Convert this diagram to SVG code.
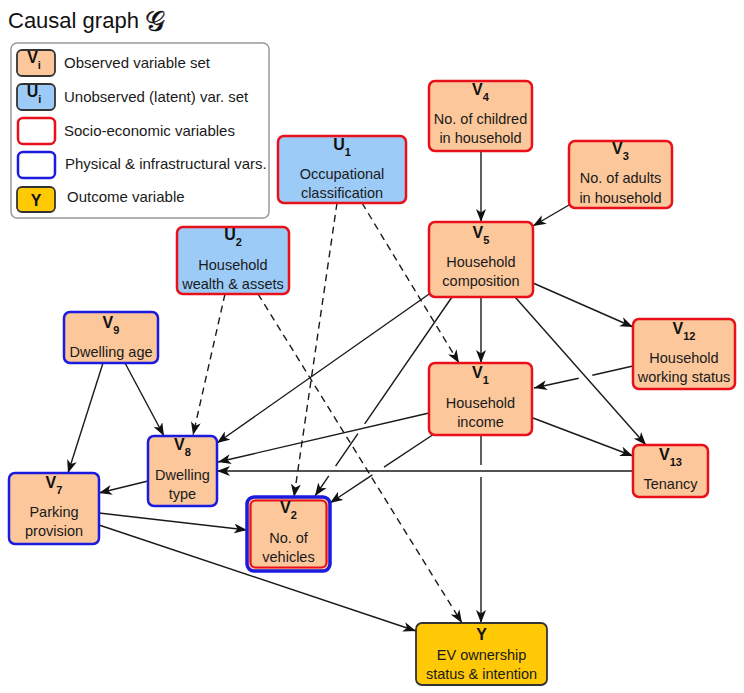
<svg xmlns="http://www.w3.org/2000/svg" width="744" height="693" viewBox="0 0 744 693">
<style>
.box{stroke-width:2.5}
.obs{fill:#fbc79b}
.lat{fill:#9ccbf7}
.out{fill:#ffc906;stroke:#333;stroke-width:1.8}
.se{stroke:#e8101a}
.ph{stroke:#1b1be0}
.sw{stroke:#333;stroke-width:1.8}
.lbl{font-family:"Liberation Sans",Arial,sans-serif;font-weight:bold;font-size:16px;fill:#111;text-anchor:middle}
.sub{font-size:11px}
.txt{font-family:"Liberation Sans",Arial,sans-serif;font-size:14.5px;fill:#1a1a1a;text-anchor:middle}
.leg{font-family:"Liberation Sans",Arial,sans-serif;font-size:15px;fill:#1a1a1a}
.e{fill:none;stroke:#1a1a1a;stroke-width:1.4}
.d{stroke-dasharray:7 5}
</style>
<defs>
<marker id="ah" viewBox="0 0 13 10" refX="13" refY="5" markerWidth="13" markerHeight="10" markerUnits="userSpaceOnUse" orient="auto">
<path d="M0,0 L13,5 L0,10 L3.5,5 Z" fill="#111"/>
</marker>
</defs>

<text x="8" y="28" font-family="Liberation Sans,Arial,sans-serif" font-size="22" fill="#111">Causal graph <tspan font-family="DejaVu Serif,Noto Sans,serif" font-size="28" dy="3" stroke="#111" stroke-width="0.4">𝒢</tspan></text>

<g id="legend">
<rect x="11" y="43" width="258" height="175" rx="6" fill="#fff" stroke="#9a9a9a" stroke-width="1.5"/>
<rect class="obs sw" x="17" y="50" width="38" height="26" rx="5"/>
<text class="lbl" x="34" y="63">V<tspan class="sub" dy="6">i</tspan></text>
<text class="leg" x="64" y="68">Observed variable set</text>
<rect class="lat sw" x="17" y="84" width="38" height="26" rx="5"/>
<text class="lbl" x="34" y="97">U<tspan class="sub" dy="6">i</tspan></text>
<text class="leg" x="64" y="102">Unobserved (latent) var. set</text>
<rect class="se" fill="#fff" stroke-width="2.5" x="18" y="118" width="37" height="26" rx="5"/>
<text class="leg" x="64" y="136">Socio-economic variables</text>
<rect class="ph" fill="#fff" stroke-width="2.5" x="18" y="152" width="37" height="26" rx="5"/>
<text class="leg" x="65" y="169">Physical &amp; infrastructural vars.</text>
<rect class="out" x="17" y="187" width="38" height="25" rx="5"/>
<text class="lbl" x="36" y="206">Y</text>
<text class="leg" x="67" y="202">Outcome variable</text>
</g>

<g id="edges">
<line class="e" x1="481" y1="151" x2="481" y2="222" marker-end="url(#ah)"/>
<line class="e" x1="569" y1="205" x2="533" y2="226" marker-end="url(#ah)"/>
<line class="e" x1="481" y1="297" x2="481" y2="363" marker-end="url(#ah)"/>
<line class="e" x1="533" y1="283" x2="633" y2="327" marker-end="url(#ah)"/>
<line class="e" x1="515" y1="297" x2="646" y2="445" marker-end="url(#ah)"/>
<line class="e" x1="432" y1="292" x2="217" y2="443" marker-end="url(#ah)"/>
<polyline class="e" points="452,297 364.7,423.8"/>
<polyline class="e" points="357.9,433.6 335.6,466.1"/>
<line class="e" x1="328.8" y1="475.9" x2="315" y2="496" marker-end="url(#ah)"/>
<line class="e" x1="429" y1="413" x2="218" y2="462" marker-end="url(#ah)"/>
<polyline class="e" points="434,434 384,467.1"/>
<line class="e" x1="372.4" y1="474.9" x2="330" y2="503" marker-end="url(#ah)"/>
<line class="e" x1="533" y1="418" x2="633" y2="456" marker-end="url(#ah)"/>
<polyline class="e" points="481,435 481,465"/>
<line class="e" x1="481" y1="477" x2="481" y2="623" marker-end="url(#ah)"/>
<polyline class="e" points="633,366 592.3,375.2"/>
<line class="e" x1="578.7" y1="378.2" x2="534" y2="388" marker-end="url(#ah)"/>
<line class="e" x1="633" y1="471" x2="217" y2="471" marker-end="url(#ah)"/>
<line class="e" x1="125" y1="363" x2="164" y2="436" marker-end="url(#ah)"/>
<line class="e" x1="103" y1="363" x2="68" y2="473" marker-end="url(#ah)"/>
<line class="e" x1="148" y1="481" x2="99" y2="493" marker-end="url(#ah)"/>
<line class="e" x1="99" y1="513" x2="247" y2="530" marker-end="url(#ah)"/>
<line class="e" x1="99" y1="525" x2="416" y2="631" marker-end="url(#ah)"/>
<line class="e d" x1="337" y1="203" x2="294" y2="497" marker-end="url(#ah)"/>
<line class="e d" x1="362" y1="203" x2="459" y2="363" marker-end="url(#ah)"/>
<line class="e d" x1="225" y1="294" x2="193" y2="435" marker-end="url(#ah)"/>
<line class="e d" x1="258" y1="294" x2="462" y2="623" marker-end="url(#ah)"/>
</g>

<g id="U1">
<rect class="box lat se" x="278" y="136" width="128" height="67" rx="6"/>
<text class="lbl" x="342" y="150">U<tspan class="sub" dy="6">1</tspan></text>
<text class="txt" x="342" y="179">Occupational</text>
<text class="txt" x="342" y="198">classification</text>
</g>
<g id="U2">
<rect class="box lat se" x="177" y="227" width="112" height="67" rx="6"/>
<text class="lbl" x="233" y="240">U<tspan class="sub" dy="6">2</tspan></text>
<text class="txt" x="233" y="270">Household</text>
<text class="txt" x="233" y="289">wealth &amp; assets</text>
</g>
<g id="V4">
<rect class="box obs se" x="429" y="81" width="103" height="70" rx="6"/>
<text class="lbl" x="480.5" y="95">V<tspan class="sub" dy="6">4</tspan></text>
<text class="txt" x="480.5" y="124">No. of childred</text>
<text class="txt" x="480.5" y="143">in household</text>
</g>
<g id="V3">
<rect class="box obs se" x="569" y="141" width="103" height="67" rx="6"/>
<text class="lbl" x="620.5" y="154">V<tspan class="sub" dy="6">3</tspan></text>
<text class="txt" x="620.5" y="183">No. of adults</text>
<text class="txt" x="620.5" y="203">in household</text>
</g>
<g id="V5">
<rect class="box obs se" x="429" y="222" width="104" height="75" rx="6"/>
<text class="lbl" x="481" y="238">V<tspan class="sub" dy="6">5</tspan></text>
<text class="txt" x="481" y="267">Household</text>
<text class="txt" x="481" y="286">composition</text>
</g>
<g id="V12">
<rect class="box obs se" x="633" y="319" width="102" height="70" rx="6"/>
<text class="lbl" x="684" y="334">V<tspan class="sub" dy="6">12</tspan></text>
<text class="txt" x="684" y="363">Household</text>
<text class="txt" x="684" y="382">working status</text>
</g>
<g id="V1">
<rect class="box obs se" x="429" y="363" width="103" height="72" rx="6"/>
<text class="lbl" x="480.5" y="378">V<tspan class="sub" dy="6">1</tspan></text>
<text class="txt" x="480.5" y="408">Household</text>
<text class="txt" x="480.5" y="427">income</text>
</g>
<g id="V13">
<rect class="box obs se" x="633" y="445" width="75" height="52" rx="6"/>
<text class="lbl" x="670.5" y="460">V<tspan class="sub" dy="6">13</tspan></text>
<text class="txt" x="670.5" y="489">Tenancy</text>
</g>
<g id="V9">
<rect class="box obs ph" x="64" y="312" width="94" height="51" rx="6"/>
<text class="lbl" x="111" y="328">V<tspan class="sub" dy="6">9</tspan></text>
<text class="txt" x="111" y="357">Dwelling age</text>
</g>
<g id="V8">
<rect class="box obs ph" x="148" y="436" width="69" height="70" rx="6"/>
<text class="lbl" x="182.5" y="450">V<tspan class="sub" dy="6">8</tspan></text>
<text class="txt" x="182.5" y="480">Dwelling</text>
<text class="txt" x="182.5" y="499">type</text>
</g>
<g id="V7">
<rect class="box obs ph" x="9" y="473" width="90" height="71" rx="6"/>
<text class="lbl" x="54" y="488">V<tspan class="sub" dy="6">7</tspan></text>
<text class="txt" x="54" y="517">Parking</text>
<text class="txt" x="54" y="536">provision</text>
</g>
<g id="V2">
<rect class="obs ph" stroke-width="3.5" x="247" y="497" width="83" height="74" rx="7"/>
<rect fill="none" class="se" stroke-width="2.2" x="250.5" y="500.5" width="76" height="67" rx="5"/>
<text class="lbl" x="288.5" y="513">V<tspan class="sub" dy="6">2</tspan></text>
<text class="txt" x="288.5" y="543">No. of</text>
<text class="txt" x="288.5" y="562">vehicles</text>
</g>
<g id="Y">
<rect class="out" x="416" y="623" width="131" height="62" rx="6"/>
<text class="lbl" x="481.5" y="640">Y</text>
<text class="txt" x="481.5" y="660">EV ownership</text>
<text class="txt" x="481.5" y="679">status &amp; intention</text>
</g>
</svg>
